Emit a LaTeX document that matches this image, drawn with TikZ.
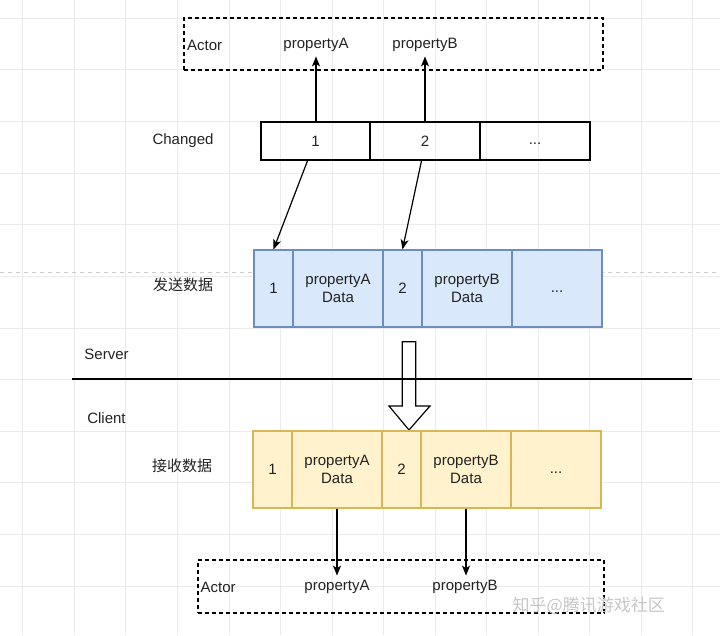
\documentclass[tikz,border=0pt]{standalone}
\usepackage{fontspec}
\setmainfont{Liberation Sans}
\newfontfamily\cjk{Noto Sans CJK SC}
\usetikzlibrary{arrows.meta}
\definecolor{bluefill}{HTML}{DAE8FC}
\definecolor{blueline}{HTML}{6C8EBF}
\definecolor{yellowfill}{HTML}{FFF2CC}
\definecolor{yellowline}{HTML}{D6B656}
\definecolor{gridgray}{HTML}{EBEBEB}
\definecolor{textgray}{HTML}{222222}
\begin{document}
\begin{tikzpicture}[x=0.75pt,y=-0.75pt,line join=miter,font=\fontsize{11.25}{13.5}\selectfont,
  cell/.style={draw,line width=0.9pt,inner sep=0pt,minimum height=28.5pt,text=textgray},
  sendcell/.style={draw=blueline,fill=bluefill,line width=0.9pt,inner sep=0pt,minimum height=57.75pt,align=center,text=textgray},
  recvcell/.style={sendcell,draw=yellowline,fill=yellowfill},
  actorbox/.style={draw,line width=0.9pt,dash pattern=on 3pt off 2.25pt,inner sep=0pt},
  label/.style={text=textgray},
  link/.style={-{Stealth[length=7.5pt,width=6pt,inset=2pt]},line width=0.9pt}]
  \useasboundingbox (0,0) rectangle (720,635);
  \foreach \i in {0,...,13}
    \draw[gridgray,line width=0.6pt] ({22.7+51.55*\i},0) -- ({22.7+51.55*\i},635);
  \foreach \j in {0,...,11}
    \draw[gridgray,line width=0.6pt] (0,{18.3+51.6*\j}) -- (720,{18.3+51.6*\j});
  \draw[gray!40,line width=0.6pt,dash pattern=on 3pt off 3pt] (0,272) -- (720,272);

  \node[actorbox,minimum width=314.25pt,minimum height=39pt] (topbox) at (393.5,44) {};
  \node[label,anchor=west] (topactor) at (182.5,45) {Actor};
  \node[label] (topa) at (316,45) {propertyA};
  \node[label] (topb) at (425,45) {propertyB};

  \node[label] (changed) at (183,141) {Changed};
  \node[cell,minimum width=81.75pt] (ch1) at (315.5,141) {1};
  \node[cell,minimum width=82.5pt] (ch2) at (425,141) {2};
  \node[cell,minimum width=82.5pt] (ch3) at (535,141) {\strut...};

  \node[label] (sendlabel) at (183,285) {\cjk 发送数据};
  \node[sendcell,minimum width=29.25pt] (s1) at (273.5,288.5) {1};
  \node[sendcell,minimum width=67.5pt] (s2) at (338,288.5) {propertyA\\Data};
  \node[sendcell,minimum width=29.25pt] (s3) at (402.5,288.5) {2};
  \node[sendcell,minimum width=67.5pt] (s4) at (467,288.5) {propertyB\\Data};
  \node[sendcell,minimum width=67.5pt] (s5) at (557,288.5) {\strut...};

  \node[label] (server) at (106.5,354) {Server};
  \node[label] (client) at (106.5,418) {Client};
  \draw[line width=0.9pt] (72,379) -- (692,379);
  \draw[line width=0.9pt] (402.3,341.7) -- (415.7,341.7) -- (415.7,406) -- (430,406)
    -- (409,430) -- (389,406) -- (402.3,406) -- cycle;

  \node[label] (recvlabel) at (182,466) {\cjk 接收数据};
  \node[recvcell,minimum width=29.25pt] (r1) at (272.5,469.5) {1};
  \node[recvcell,minimum width=67.5pt] (r2) at (337,469.5) {propertyA\\Data};
  \node[recvcell,minimum width=29.25pt] (r3) at (401.5,469.5) {2};
  \node[recvcell,minimum width=67.5pt] (r4) at (466,469.5) {propertyB\\Data};
  \node[recvcell,minimum width=67.5pt] (r5) at (556,469.5) {\strut...};

  \node[actorbox,minimum width=304.5pt,minimum height=39.75pt] (botbox) at (401,586.5) {};
  \node[label,anchor=west] (botactor) at (196,587) {Actor};
  \node[label] (bota) at (337,587) {propertyA};
  \node[label] (botb) at (465,587) {propertyB};

  \draw[link] (ch1.north -| topa.south) -- (topa.south);
  \draw[link] (ch2.north) -- (ch2.north |- topb.south);
  \draw[link] (ch1.248.5) -- (s1.north);
  \draw[link] (ch2.260) -- (s3.north);
  \draw[link] (r2.south) -- (r2.south |- bota.north);
  \draw[link] (r4.south) -- (r4.south |- botb.north);

  \node[text=gray!45,font=\cjk\fontsize{12.75}{14}\selectfont,anchor=west] (mark) at (508,606) {知乎@腾讯游戏社区};
\end{tikzpicture}
\end{document}
